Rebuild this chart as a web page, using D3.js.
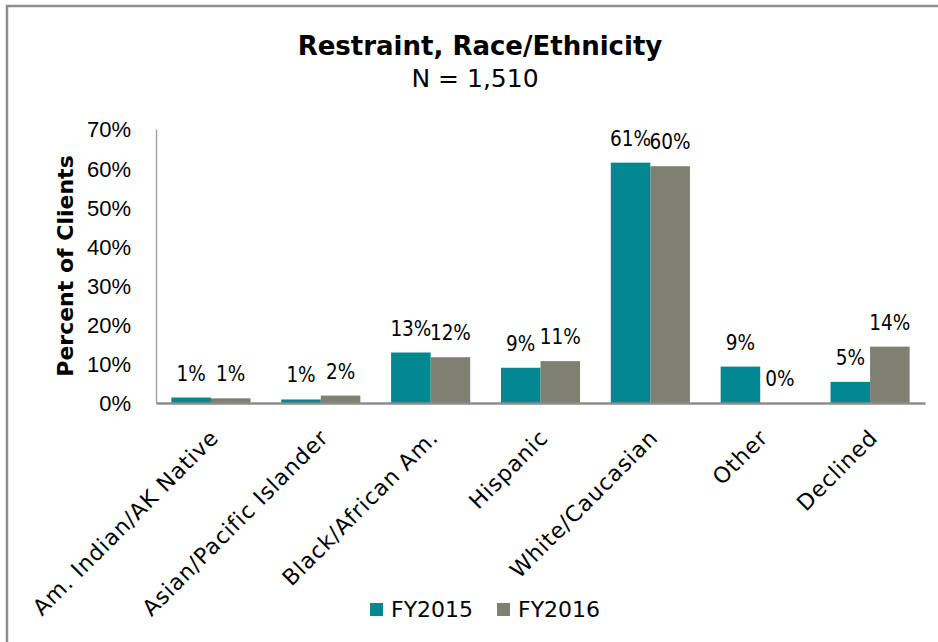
<!DOCTYPE html>
<html lang="en">
  <head>
    <meta charset="UTF-8" />
    <title>Restraint, Race/Ethnicity</title>
    <script src="https://cdn.jsdelivr.net/npm/d3@7.6.1/dist/d3.min.js"></script>
    <style>
      body {
        margin: 0;
        background: #fff;
      }
      svg {
        display: block;
        font-family: 'DejaVu Sans Condensed', 'DejaVu Sans', sans-serif;
      }
      .wide {
        font-family: 'DejaVu Sans', sans-serif;
      }
    </style>
  </head>

  <body>
    <div id="box"></div>
    <script>
      // 数据
      const categories = [
        'Am. Indian/AK Native',
        'Asian/Pacific Islander',
        'Black/African Am.',
        'Hispanic',
        'White/Caucasian',
        'Other',
        'Declined'
      ];
      const seriesNames = ['FY2015', 'FY2016'];
      const fy2015 = [1.4, 0.9, 12.9, 9.0, 61.4, 9.3, 5.4];
      const fy2016 = [1.2, 1.9, 11.7, 10.7, 60.5, 0, 14.4];
      const valueLabels2015 = ['1%', '1%', '13%', '9%', '61%', '9%', '5%'];
      const valueLabels2016 = ['1%', '2%', '12%', '11%', '60%', '0%', '14%'];
      const yTicks = [0, 10, 20, 30, 40, 50, 60, 70];
      const colors = ['#00878f', '#7f7f72'];

      const width = 938;
      const height = 642;
      const margin = {left: 156, right: 13, top: 129, bottom: 239};

      const svg = d3.select('#box').append('svg').attr('width', width).attr('height', height);

      // 外框（只有左边和上边）
      svg.append('path')
        .attr('d', `M7,${height} V6 H${width}`)
        .attr('fill', 'none')
        .attr('stroke', '#8e8e8e')
        .attr('stroke-width', 2.5);

      // 标题
      svg.append('text')
        .attr('class', 'wide')
        .attr('x', 480).attr('y', 55)
        .attr('text-anchor', 'middle')
        .attr('font-size', 26).attr('font-weight', 'bold')
        .text('Restraint, Race/Ethnicity');
      svg.append('text')
        .attr('class', 'wide')
        .attr('x', 475).attr('y', 87)
        .attr('text-anchor', 'middle')
        .attr('font-size', 25)
        .text('N = 1,510');

      const x0 = d3.scaleBand()
        .domain(categories)
        .range([margin.left, width - margin.right])
        .paddingInner(0.28)
        .paddingOuter(0.14);
      const x1 = d3.scaleBand()
        .domain(seriesNames)
        .range([0, x0.bandwidth()]);
      const y = d3.scaleLinear()
        .domain([0, 70])
        .range([height - margin.bottom, margin.top]);

      // Y 轴
      const yAxis = d3.axisLeft(y)
        .tickValues(yTicks)
        .tickFormat(d => d + '%')
        .tickSize(0)
        .tickPadding(25);
      const gy = svg.append('g')
        .attr('transform', `translate(${margin.left},0)`)
        .call(yAxis);
      gy.select('.domain').attr('stroke', '#a6a6a6').attr('stroke-width', 1.5);
      gy.selectAll('text')
        .attr('font-size', 22)
        .attr('font-family', null)
        .attr('fill', '#000')
        .attr('dy', '0.36em');

      svg.append('text')
        .attr('class', 'wide')
        .attr('transform', `translate(73,${(margin.top + height - margin.bottom) / 2}) rotate(-90)`)
        .attr('text-anchor', 'middle')
        .attr('font-size', 22).attr('font-weight', 'bold')
        .text('Percent of Clients');

      // 柱子
      const rows = categories.map((c, i) => ({
        cat: c,
        vals: [
          {key: seriesNames[0], v: fy2015[i], label: valueLabels2015[i]},
          {key: seriesNames[1], v: fy2016[i], label: valueLabels2016[i]}
        ]
      }));

      const groups = svg.selectAll('.grp')
        .data(rows)
        .enter()
        .append('g')
        .attr('class', 'grp')
        .attr('transform', d => `translate(${x0(d.cat)},0)`);

      groups.selectAll('rect')
        .data(d => d.vals)
        .enter()
        .append('rect')
        .attr('x', d => x1(d.key))
        .attr('y', d => y(d.v))
        .attr('width', x1.bandwidth())
        .attr('height', d => y(0) - y(d.v))
        .attr('fill', (d, i) => colors[i]);

      groups.selectAll('.lbl')
        .data(d => d.vals)
        .enter()
        .append('text')
        .attr('class', 'lbl')
        .attr('x', d => x1(d.key) + x1.bandwidth() / 2)
        .attr('y', d => y(d.v) - 17)
        .attr('text-anchor', 'middle')
        .attr('font-size', 20.5)
        .text(d => d.label);

      // X 轴
      const xAxis = d3.axisBottom(x0).tickSize(0).tickFormat('');
      const gx = svg.append('g')
        .attr('transform', `translate(0,${y(0)})`)
        .call(xAxis);
      gx.select('.domain').attr('stroke', '#8c8c8c').attr('stroke-width', 2.5);

      svg.selectAll('.cat')
        .data(categories)
        .enter()
        .append('text')
        .attr('class', 'cat wide')
        .attr('text-anchor', 'end')
        .attr('font-size', 22)
        .attr('letter-spacing', 0.9)
        .attr('transform', d => `translate(${x0(d) + x0.bandwidth() / 2 + 9},${y(0) + 36}) rotate(-45)`)
        .text(d => d);

      // 图例
      const legend = svg.append('g').attr('transform', 'translate(370,603)');
      const items = legend.selectAll('g')
        .data(seriesNames)
        .enter()
        .append('g')
        .attr('transform', (d, i) => `translate(${i * 127},0)`);
      items.append('rect')
        .attr('width', 13).attr('height', 13)
        .attr('fill', (d, i) => colors[i]);
      items.append('text')
        .attr('class', 'wide')
        .attr('x', 21).attr('y', 14)
        .attr('font-size', 22)
        .text(d => d);
    </script>
  </body>
</html>
